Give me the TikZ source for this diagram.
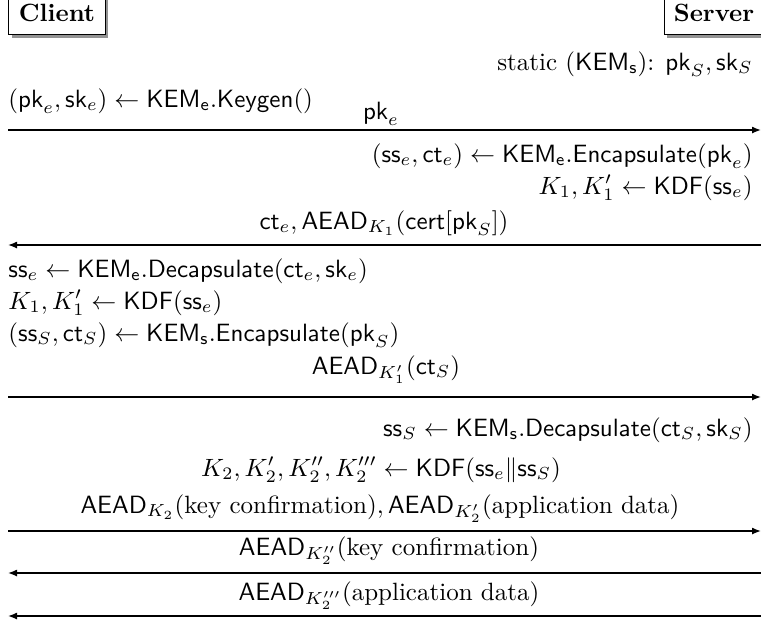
\documentclass[tikz,border=0pt]{standalone}
\usepackage{amsmath}
\usetikzlibrary{arrows.meta,shadows}
\begin{document}
\begin{tikzpicture}[x=0.4pt,y=-0.4pt,
  lt/.style={anchor=base west,inner sep=0pt},
  rt/.style={anchor=base east,inner sep=0pt},
  ct/.style={anchor=base,inner sep=0pt},
  party/.style={draw,fill=white,line width=0.4pt,minimum height=17.5pt,inner sep=0pt,
     font=\bfseries,general shadow={fill=gray!85,shadow xshift=1.3pt,shadow yshift=-1.3pt}},
  msg/.style={line width=0.55pt,-{Latex[length=3.6pt,width=2.8pt]}}]
\useasboundingbox (0,0) rectangle (761,623);
\node[party,minimum width=38.4pt] (client) at (57,13) {Client};
\node[party,minimum width=40pt] (server) at (714,13) {Server};
\node[rt] (stat) at (753,70) {static ($\mathsf{KEM}_{\mathsf{s}}$): $\mathsf{pk}_S,\mathsf{sk}_S$};
\node[lt] (kg) at (8,107) {$(\mathsf{pk}_e,\mathsf{sk}_e)\leftarrow\mathsf{KEM}_{\mathsf{e}}.\mathsf{Keygen}()$};
\node[ct] (m1) at (381,119) {$\mathsf{pk}_e$};
\coordinate (a1l) at (8,130); \coordinate (a1r) at (761,130);
\draw[msg] (a1l) -- (a1r);
\node[rt] (enc) at (753,162) {$(\mathsf{ss}_e,\mathsf{ct}_e)\leftarrow\mathsf{KEM}_{\mathsf{e}}.\mathsf{Encapsulate}(\mathsf{pk}_e)$};
\node[rt] (kdf1) at (753,194) {$K_1,K_1'\leftarrow\mathsf{KDF}(\mathsf{ss}_e)$};
\node[ct] (m2) at (384,229) {$\mathsf{ct}_e,\mathsf{AEAD}_{K_1}(\mathsf{cert}[\mathsf{pk}_S])$};
\coordinate (a2l) at (8,245); \coordinate (a2r) at (761,245);
\draw[msg] (a2r) -- (a2l);
\node[lt] (dec) at (8,277) {$\mathsf{ss}_e\leftarrow\mathsf{KEM}_{\mathsf{e}}.\mathsf{Decapsulate}(\mathsf{ct}_e,\mathsf{sk}_e)$};
\node[lt] (kdf2) at (8,309) {$K_1,K_1'\leftarrow\mathsf{KDF}(\mathsf{ss}_e)$};
\node[lt] (enc2) at (8,341) {$(\mathsf{ss}_S,\mathsf{ct}_S)\leftarrow\mathsf{KEM}_{\mathsf{s}}.\mathsf{Encapsulate}(\mathsf{pk}_S)$};
\node[ct] (m3) at (386,374) {$\mathsf{AEAD}_{K_1'}(\mathsf{ct}_S)$};
\coordinate (a3l) at (8,397); \coordinate (a3r) at (761,397);
\draw[msg] (a3l) -- (a3r);
\node[rt] (dec2) at (753,436) {$\mathsf{ss}_S\leftarrow\mathsf{KEM}_{\mathsf{s}}.\mathsf{Decapsulate}(\mathsf{ct}_S,\mathsf{sk}_S)$};
\node[ct] (kdf3) at (381,476) {$K_2,K_2',K_2'',K_2'''\leftarrow\mathsf{KDF}(\mathsf{ss}_e\|\mathsf{ss}_S)$};
\node[ct] (m4) at (380,513) {$\mathsf{AEAD}_{K_2}(\text{key confirmation}),\mathsf{AEAD}_{K_2'}(\text{application data})$};
\coordinate (a4l) at (8,531); \coordinate (a4r) at (761,531);
\draw[msg] (a4l) -- (a4r);
\node[ct] (m5) at (389,555) {$\mathsf{AEAD}_{K_2''}(\text{key confirmation})$};
\coordinate (a5l) at (8,573); \coordinate (a5r) at (761,573);
\draw[msg] (a5r) -- (a5l);
\node[ct] (m6) at (389,600) {$\mathsf{AEAD}_{K_2'''}(\text{application data})$};
\coordinate (a6l) at (8,616); \coordinate (a6r) at (761,616);
\draw[msg] (a6r) -- (a6l);
\end{tikzpicture}
\end{document}
